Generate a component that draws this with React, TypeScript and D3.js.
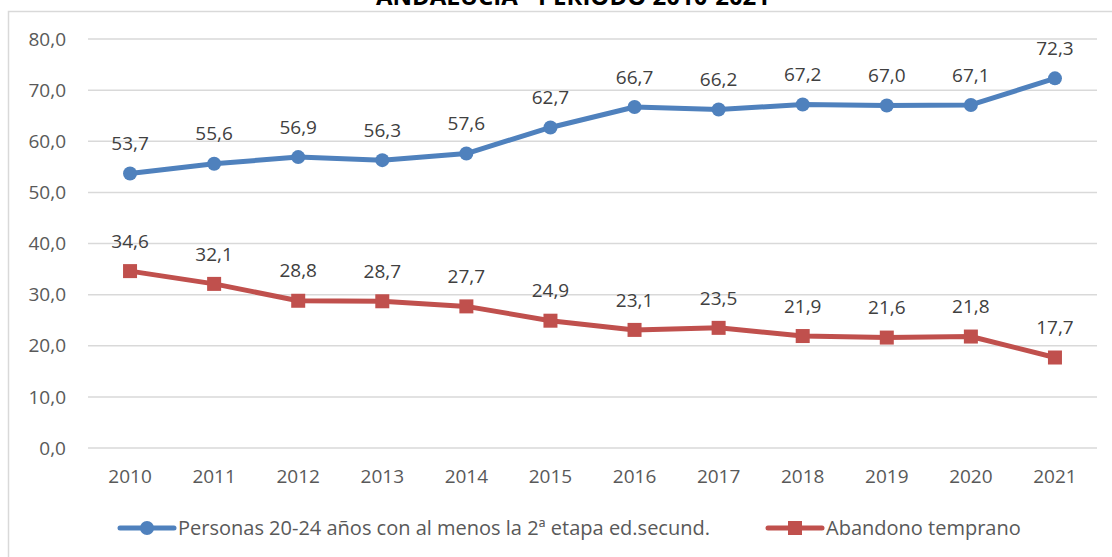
import React, { useEffect, useRef } from "react";
import * as d3 from "d3";

const years = ["2010", "2011", "2012", "2013", "2014", "2015", "2016", "2017", "2018", "2019", "2020", "2021"];
const personas = [53.7, 55.6, 56.9, 56.3, 57.6, 62.7, 66.7, 66.2, 67.2, 67.0, 67.1, 72.3];
const abandono = [34.6, 32.1, 28.8, 28.7, 27.7, 24.9, 23.1, 23.5, 21.9, 21.6, 21.8, 17.7];
const yTicks = [0, 10, 20, 30, 40, 50, 60, 70, 80];
const seriesNames = ["Personas 20-24 años con al menos la 2ª etapa ed.secund.", "Abandono temprano"];

const fmt = (v: number) => v.toFixed(1).replace(".", ",");

export default function App() {
  const ref = useRef<SVGSVGElement>(null);

  useEffect(() => {
    const W = 1112, H = 557;
    const svg = d3.select(ref.current);
    svg.selectAll("*").remove();
    const font = "Open Sans, sans-serif";
    const grey = "#595959";

    // chart frame
    svg.append("path")
      .attr("d", `M8.5,${H} V11.5 H${W}`)
      .attr("fill", "none")
      .attr("stroke", "#d9d9d9")
      .attr("stroke-width", 1.5);

    // title, cut by the top edge as in the source
    svg.append("text")
      .attr("x", 573)
      .attr("y", 5)
      .attr("text-anchor", "middle")
      .style("font-family", font)
      .style("font-size", "24px")
      .style("font-weight", "bold")
      .attr("fill", "#000")
      .text("ANDALUCÍA - PERIODO 2010-2021");

    const x = d3.scalePoint().domain(years).range([88, 1097]).padding(0.5);
    const y = d3.scaleLinear().domain([0, 80]).range([448, 39]);

    svg.append("g")
      .selectAll("line")
      .data(yTicks)
      .join("line")
      .attr("x1", 88)
      .attr("x2", 1097)
      .attr("y1", (d) => y(d))
      .attr("y2", (d) => y(d))
      .attr("stroke", "#d9d9d9")
      .attr("stroke-width", 1.5);

    svg.append("g")
      .selectAll("text")
      .data(yTicks)
      .join("text")
      .attr("x", 66)
      .attr("y", (d) => y(d))
      .attr("dy", "0.35em")
      .attr("text-anchor", "end")
      .attr("fill", grey)
      .style("font-family", font)
      .style("font-size", "19px")
      .text((d) => fmt(d));

    svg.append("g")
      .selectAll("text")
      .data(years)
      .join("text")
      .attr("x", (d) => x(d)!)
      .attr("y", 476)
      .attr("dy", "0.35em")
      .attr("text-anchor", "middle")
      .attr("fill", grey)
      .style("font-family", font)
      .style("font-size", "19px")
      .text((d) => d);

    const series = [
      { name: seriesNames[0], values: personas, color: "#4f81bd", marker: "circle" },
      { name: seriesNames[1], values: abandono, color: "#c0504d", marker: "square" },
    ];

    const line = d3.line<number>()
      .x((_, i) => x(years[i])!)
      .y((d) => y(d));

    const drawMarker = (g: any, kind: string, cx: number, cy: number, color: string) => {
      if (kind === "circle") {
        g.append("circle").attr("cx", cx).attr("cy", cy).attr("r", 7).attr("fill", color);
      } else {
        g.append("rect").attr("x", cx - 7).attr("y", cy - 7).attr("width", 14).attr("height", 14).attr("fill", color);
      }
    };

    series.forEach((s) => {
      const g = svg.append("g");
      g.append("path")
        .datum(s.values)
        .attr("d", line)
        .attr("fill", "none")
        .attr("stroke", s.color)
        .attr("stroke-width", 5)
        .attr("stroke-linejoin", "round")
        .attr("stroke-linecap", "round");
      s.values.forEach((v, i) => drawMarker(g, s.marker, x(years[i])!, y(v), s.color));
      g.selectAll("text.lbl")
        .data(s.values)
        .join("text")
        .attr("class", "lbl")
        .attr("x", (_, i) => x(years[i])!)
        .attr("y", (d) => y(d) - 30)
        .attr("dy", "0.35em")
        .attr("text-anchor", "middle")
        .attr("fill", "#404040")
        .style("font-family", font)
        .style("font-size", "19px")
        .text((d) => fmt(d));
    });

    // legend
    const legendX = [120, 768];
    series.forEach((s, i) => {
      const g = svg.append("g");
      const lx = legendX[i];
      g.append("line")
        .attr("x1", lx)
        .attr("x2", lx + 54)
        .attr("y1", 528)
        .attr("y2", 528)
        .attr("stroke", s.color)
        .attr("stroke-width", 5)
        .attr("stroke-linecap", "round");
      drawMarker(g, s.marker, lx + 27, 528, s.color);
      g.append("text")
        .attr("x", lx + 58)
        .attr("y", 528)
        .attr("dy", "0.35em")
        .attr("fill", grey)
        .style("font-family", font)
        .style("font-size", "20px")
        .text(s.name);
    });
  }, []);

  return (
    <svg
      ref={ref}
      width={1112}
      height={557}
      style={{ position: "absolute", left: 0, top: 0, background: "#fff" }}
    />
  );
}
